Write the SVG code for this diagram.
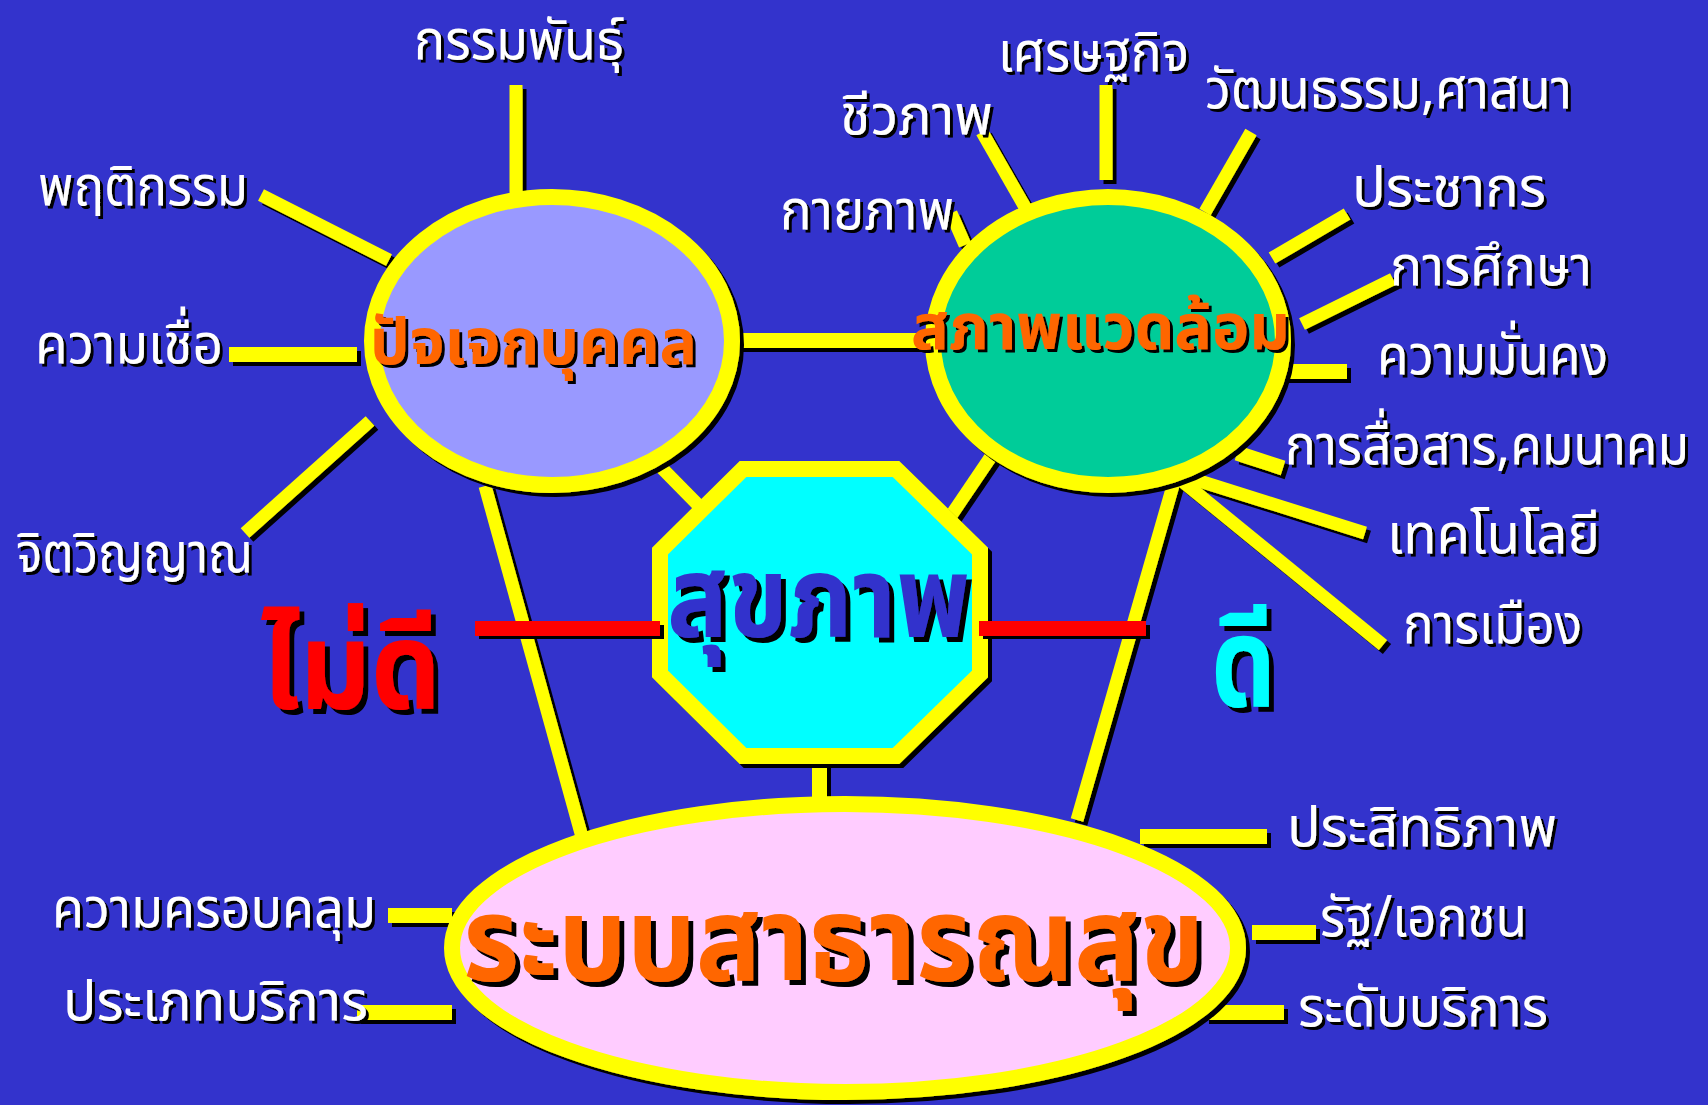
<svg xmlns="http://www.w3.org/2000/svg" width="1708" height="1105" viewBox="0 0 1708 1105">
<defs>
<filter id="sh" x="-10%" y="-10%" width="130%" height="130%"><feDropShadow dx="4" dy="4" stdDeviation="0" flood-color="#000" flood-opacity="1"/></filter>
<filter id="tsh" x="-10%" y="-20%" width="130%" height="150%"><feDropShadow dx="3" dy="3" stdDeviation="0" flood-color="#000" flood-opacity="1"/></filter>
<filter id="bsh" x="-10%" y="-20%" width="130%" height="150%"><feDropShadow dx="5" dy="5" stdDeviation="0" flood-color="#000" flood-opacity="1"/></filter>
</defs>
<style>
.bg{fill:#3333CC}
.ln{stroke:#FFFF00;stroke-width:13;fill:none;stroke-linecap:butt}
.bar{fill:#FFFF00}
.red{fill:#FF0000}
.node{stroke:#FFFF00;stroke-width:16}
.lbl{font-family:"Noto Sans Thai","Noto Sans",sans-serif;font-size:56px;fill:#FFFFFF}
.big{font-family:"Noto Sans Thai","Noto Sans",sans-serif;font-weight:bold}
</style>
<rect class="bg" x="0" y="0" width="1708" height="1105"/>

<g id="connectors" filter="url(#sh)">
<line class="ln" x1="516" y1="85" x2="516" y2="196"/>
<line class="ln" x1="261" y1="195" x2="389" y2="260"/>
<rect class="bar" x="229" y="347" width="128" height="15"/>
<line class="ln" x1="245" y1="533" x2="370" y2="421"/>
<rect class="bar" x="738" y="333" width="190" height="15"/>
<line class="ln" x1="647" y1="453" x2="710" y2="517"/>
<line class="ln" x1="485" y1="486" x2="582" y2="837"/>
<line class="ln" x1="982" y1="132" x2="1026" y2="209"/>
<line class="ln" x1="951" y1="213" x2="965" y2="245"/>
<line class="ln" x1="1106" y1="85" x2="1106" y2="180"/>
<line class="ln" x1="1251" y1="132" x2="1205" y2="212"/>
<line class="ln" x1="1347" y1="214" x2="1272" y2="258"/>
<line class="ln" x1="1393" y1="279" x2="1302" y2="324"/>
<rect class="bar" x="1268" y="364" width="79" height="15"/>
<line class="ln" x1="1237" y1="453" x2="1283" y2="468" style="stroke-width:15"/>
<line class="ln" x1="1171" y1="472" x2="1365" y2="533"/>
<line class="ln" x1="1171" y1="472" x2="1383" y2="645"/>
<line class="ln" x1="992" y1="455" x2="950" y2="517"/>
<line class="ln" x1="1176" y1="475" x2="1077" y2="820"/>
<rect class="bar" x="812" y="760" width="15" height="47"/>
<rect class="bar" x="1140" y="829" width="127" height="15"/>
<rect class="bar" x="1252" y="925" width="64" height="15"/>
<rect class="bar" x="1205" y="1005" width="79" height="15"/>
<rect class="bar" x="388" y="908" width="64" height="15"/>
<rect class="bar" x="357" y="1005" width="95" height="15"/>
</g>

<g id="node-individual">
<ellipse class="node" cx="552" cy="341" rx="180" ry="144" fill="#9999FF" filter="url(#sh)"/>
<text class="big" x="370" y="364" font-size="64" fill="#FF6600" textLength="327" lengthAdjust="spacingAndGlyphs" filter="url(#tsh)">ปัจเจกบุคคล</text>
</g>

<g id="node-environment">
<ellipse class="node" cx="1108" cy="341" rx="175" ry="144" fill="#00CC99" filter="url(#sh)"/>
<text class="big" x="911" y="349" font-size="64" fill="#FF6600" textLength="379" lengthAdjust="spacingAndGlyphs" filter="url(#tsh)">สภาพแวดล้อม</text>
</g>

<g id="node-health">
<polygon class="node" points="743,469 896,469 980,551 980,674 896,756 743,756 660,674 660,551" fill="#00FFFF" filter="url(#sh)"/>
<text class="big" x="667" y="637" font-size="114" fill="#3333CC" textLength="303" lengthAdjust="spacingAndGlyphs" filter="url(#bsh)">สุขภาพ</text>
</g>

<g id="node-publichealth">
<ellipse class="node" cx="845" cy="948" rx="393" ry="144" fill="#FFCCFF" filter="url(#sh)"/>
<text class="big" x="463" y="980" font-size="118" fill="#FF6600" textLength="741" lengthAdjust="spacingAndGlyphs" filter="url(#bsh)">ระบบสาธารณสุข</text>
</g>

<g id="red-links" filter="url(#sh)">
<rect class="red" x="475" y="621" width="185" height="15"/>
<rect class="red" x="979" y="621" width="167" height="15"/>
</g>

<g id="node-bad"><text class="big" x="261" y="708" font-size="122" fill="#FF0000" textLength="180" lengthAdjust="spacingAndGlyphs" filter="url(#bsh)">ไม่ดี</text></g>
<g id="node-good"><text class="big" x="1211" y="706" font-size="126" fill="#00FFFF" textLength="65" lengthAdjust="spacingAndGlyphs" filter="url(#bsh)">ดี</text></g>

<g id="labels" filter="url(#tsh)">
<text class="lbl" x="414" y="59" textLength="210" lengthAdjust="spacingAndGlyphs">กรรมพันธุ์</text>
<text class="lbl" x="38" y="205" textLength="210" lengthAdjust="spacingAndGlyphs">พฤติกรรม</text>
<text class="lbl" x="35" y="363" textLength="188" lengthAdjust="spacingAndGlyphs">ความเชื่อ</text>
<text class="lbl" x="16" y="572" textLength="237" lengthAdjust="spacingAndGlyphs">จิตวิญญาณ</text>
<text class="lbl" x="998" y="71" textLength="191" lengthAdjust="spacingAndGlyphs">เศรษฐกิจ</text>
<text class="lbl" x="1205" y="108" textLength="367" lengthAdjust="spacingAndGlyphs">วัฒนธรรม,ศาสนา</text>
<text class="lbl" x="840" y="134" textLength="153" lengthAdjust="spacingAndGlyphs">ชีวภาพ</text>
<text class="lbl" x="780" y="229" textLength="174" lengthAdjust="spacingAndGlyphs">กายภาพ</text>
<text class="lbl" x="1352" y="206" textLength="194" lengthAdjust="spacingAndGlyphs">ประชากร</text>
<text class="lbl" x="1390" y="285" textLength="202" lengthAdjust="spacingAndGlyphs">การศึกษา</text>
<text class="lbl" x="1377" y="374" textLength="231" lengthAdjust="spacingAndGlyphs">ความมั่นคง</text>
<text class="lbl" transform="translate(1285,464) scale(1,1.2)" x="0" y="0" style="font-size:46px" textLength="404" lengthAdjust="spacingAndGlyphs">การสื่อสาร,คมนาคม</text>
<text class="lbl" x="1387" y="553" textLength="213" lengthAdjust="spacingAndGlyphs">เทคโนโลยี</text>
<text class="lbl" x="1403" y="643" textLength="179" lengthAdjust="spacingAndGlyphs">การเมือง</text>
<text class="lbl" x="1287" y="846" textLength="270" lengthAdjust="spacingAndGlyphs">ประสิทธิภาพ</text>
<text class="lbl" x="1320" y="936" textLength="207" lengthAdjust="spacingAndGlyphs">รัฐ/เอกชน</text>
<text class="lbl" x="1298" y="1026" textLength="250" lengthAdjust="spacingAndGlyphs">ระดับบริการ</text>
<text class="lbl" x="52" y="927" textLength="324" lengthAdjust="spacingAndGlyphs">ความครอบคลุม</text>
<text class="lbl" x="63" y="1020" textLength="305" lengthAdjust="spacingAndGlyphs">ประเภทบริการ</text>
</g>
</svg>
